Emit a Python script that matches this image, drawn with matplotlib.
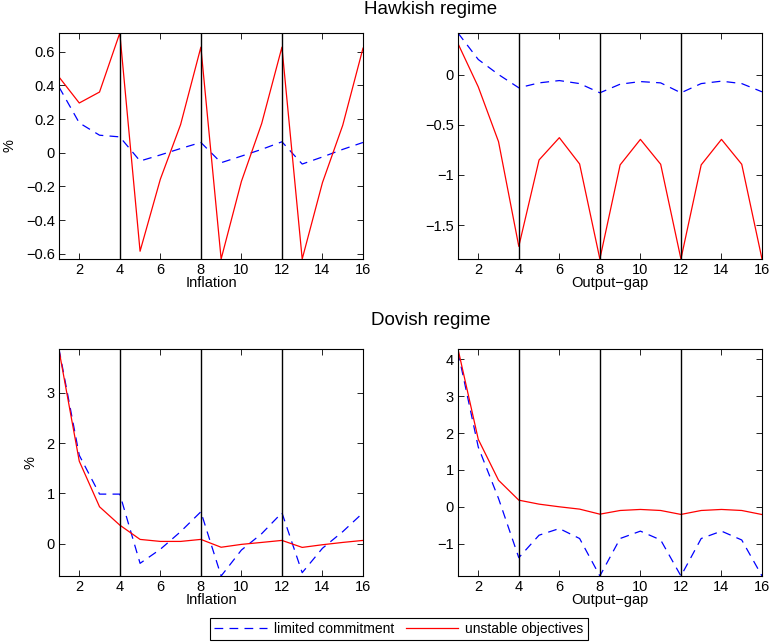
import numpy as np
import matplotlib
matplotlib.use("Agg")
import matplotlib.pyplot as plt

plt.rcParams['font.family'] = ['Liberation Sans', 'DejaVu Sans']
plt.rcParams['axes.unicode_minus'] = True

horizon = np.arange(1, 17)
xticks = [2, 4, 6, 8, 10, 12, 14, 16]
breaks = [4, 8, 12]

# Hawkish regime
hawk_infl_lc = [0.39, 0.177, 0.104, 0.094, -0.049, -0.013, 0.025, 0.061,
                -0.059, -0.02, 0.02, 0.065, -0.067, -0.025, 0.02, 0.061]
hawk_infl_uo = [0.449, 0.295, 0.36, 0.71, -0.584, -0.157, 0.167, 0.626,
                -0.63, -0.17, 0.173, 0.626, -0.63, -0.177, 0.163, 0.62]
hawk_gap_lc = [0.414, 0.15, 0.0, -0.132, -0.083, -0.06, -0.09, -0.182,
               -0.096, -0.07, -0.083, -0.182, -0.09, -0.066, -0.09, -0.172]
hawk_gap_uo = [0.308, -0.123, -0.669, -1.712, -0.851, -0.629, -0.891, -1.838,
               -0.90, -0.646, -0.894, -1.838, -0.90, -0.646, -0.894, -1.838]

# Dovish regime
dove_infl_lc = [3.874, 1.76, 0.987, 0.987, -0.39, -0.11, 0.24, 0.636,
                -0.642, -0.126, 0.2, 0.616, -0.576, -0.09, 0.24, 0.616]
dove_infl_uo = [3.85, 1.642, 0.735, 0.37, 0.086, 0.046, 0.046, 0.086,
                -0.07, -0.013, 0.026, 0.066, -0.073, -0.02, 0.026, 0.066]
dove_gap_lc = [4.2, 1.62, 0.225, -1.38, -0.77, -0.59, -0.86, -1.877,
               -0.86, -0.66, -0.9, -1.877, -0.86, -0.66, -0.9, -1.877]
dove_gap_uo = [4.28, 1.83, 0.72, 0.18, 0.072, 0.0, -0.063, -0.2,
               -0.1, -0.072, -0.1, -0.207, -0.1, -0.072, -0.1, -0.21]

# (lc, uo, xlabel, ylabel x-position in px or None, yticks)
panels = [
    (hawk_infl_lc, hawk_infl_uo, "Inflation", 10, [-0.6, -0.4, -0.2, 0, 0.2, 0.4, 0.6]),
    (hawk_gap_lc, hawk_gap_uo, "Output\u2212gap", None, [-1.5, -1, -0.5, 0]),
    (dove_infl_lc, dove_infl_uo, "Inflation", 31, [0, 1, 2, 3]),
    (dove_gap_lc, dove_gap_uo, "Output\u2212gap", None, [-1, 0, 1, 2, 3, 4]),
]

W, H = 772, 643
fig = plt.figure(figsize=(W / 100, H / 100), dpi=100)

# axes boxes in pixels: left, top, right, bottom
boxes = [(59, 33, 363, 259), (458, 33, 762, 259),
         (59, 349, 363, 576), (458, 349, 762, 576)]

handles = None
for (lc, uo, xlab, ylab_x, yt), (l, t, r, b) in zip(panels, boxes):
    ax = fig.add_axes([l / W, 1 - b / H, (r - l) / W, (b - t) / H])
    h1, = ax.plot(horizon, lc, color='blue', ls=(0, (7, 5)), lw=0.9,
                  label='limited commitment')
    h2, = ax.plot(horizon, uo, color='red', lw=0.9, label='unstable objectives')
    handles = [h1, h2]
    for xb in breaks:
        ax.axvline(xb, color='black', lw=1.0)
    lo = min(min(lc), min(uo))
    hi = max(max(lc), max(uo))
    ax.set_xlim(1, 16)
    ax.set_ylim(lo, hi)
    ax.set_xticks(xticks)
    ax.set_yticks(yt)
    ax.set_yticklabels([("%g" % v).replace('-', '\u2212') for v in yt])
    ax.tick_params(direction='in', top=True, right=True, length=4,
                   labelsize=10.5, width=0.6, pad=3)
    for s in ax.spines.values():
        s.set_linewidth(0.8)
    ax.set_xlabel(xlab, fontsize=10.5, labelpad=-1)
    if ylab_x is not None:
        ax.set_ylabel('%', fontsize=10.5, va='center')
        ax.yaxis.set_label_coords((ylab_x - l) / (r - l), 0.5)

fig.text(431 / W, 1 - 10 / H, 'Hawkish regime', ha='center', va='center', fontsize=13.5)
fig.text(431 / W, 1 - 320 / H, 'Dovish regime', ha='center', va='center', fontsize=13.5)

leg = fig.legend(handles, ['limited commitment', 'unstable objectives'],
                 loc='upper center', bbox_to_anchor=(399 / W, 1 - 618 / H), ncol=2,
                 fontsize=10, frameon=True, fancybox=False, framealpha=1,
                 edgecolor='black', handlelength=3.8, columnspacing=0.8,
                 handletextpad=0.5, borderpad=0.3, borderaxespad=0)
leg.get_frame().set_linewidth(0.8)

fig.savefig('out.png', dpi=100)
